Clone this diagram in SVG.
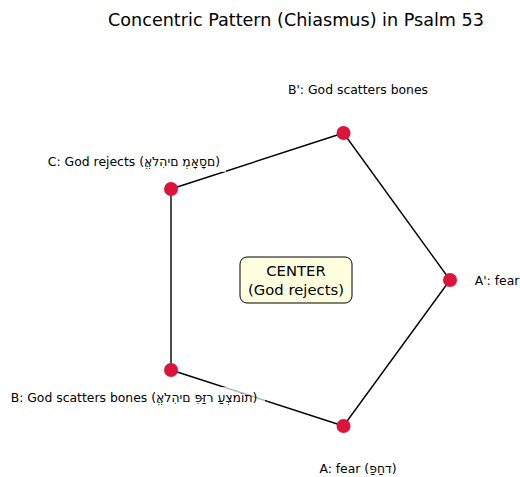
<svg xmlns="http://www.w3.org/2000/svg" width="520" height="477" viewBox="0 0 520 477">
<style>
text { font-family: "DejaVu Sans", "Liberation Sans", sans-serif; fill: #000; }
.title { font-size: 17.6px; text-anchor: middle; }
.lbl { font-size: 12.4px; text-anchor: middle; dominant-baseline: central; direction: ltr; unicode-bidi: bidi-override; }
.ctr { font-size: 14.8px; text-anchor: middle; }
.edge { stroke: #000; stroke-width: 1.4; fill: none; }
.node { fill: #DC143C; }
.bg { fill: #fff; fill-opacity: 0.7; }
</style>
<rect width="520" height="477" fill="#fff"/>
<text class="title" x="296" y="26">Concentric Pattern (Chiasmus) in Psalm 53</text>
<g id="connectors">
<line class="edge" x1="343.5" y1="133" x2="450" y2="280"/>
<line class="edge" x1="450" y1="280" x2="343.5" y2="426"/>
<line class="edge" x1="343.5" y1="426" x2="171" y2="370"/>
<line class="edge" x1="171" y1="370" x2="171" y2="189"/>
<line class="edge" x1="171" y1="189" x2="343.5" y2="133"/>
</g>
<g id="node-Bp">
<circle class="node" cx="343.5" cy="133" r="7"/>
<text class="lbl" x="358" y="89">B': God scatters bones</text>
</g>
<g id="node-Ap">
<circle class="node" cx="450" cy="280" r="7"/>
<text class="lbl" x="497" y="280">A': fear</text>
</g>
<g id="node-A">
<circle class="node" cx="343.5" cy="426" r="7"/>
<text class="lbl" x="358" y="468">A: fear (פַּחַד)</text>
</g>
<g id="node-B">
<circle class="node" cx="171" cy="370" r="7"/>
<rect class="bg" x="190" y="387" width="75" height="21"/>
<text class="lbl" x="134" y="397">B: God scatters bones (אֱלֹהִים פִּזַּר עַצְמוֹת)</text>
</g>
<g id="node-C">
<circle class="node" cx="171" cy="189" r="7"/>
<rect class="bg" x="180" y="150" width="46" height="22"/>
<text class="lbl" x="134" y="161">C: God rejects (אֱלֹהִים מְאָסָם)</text>
</g>
<g id="center">
<rect x="240" y="257" width="112" height="46" rx="7" ry="7" fill="#FFFFE0" stroke="#000" stroke-width="1"/>
<text class="ctr" x="296" y="276">CENTER</text>
<text class="ctr" x="296" y="295">(God rejects)</text>
</g>
</svg>
